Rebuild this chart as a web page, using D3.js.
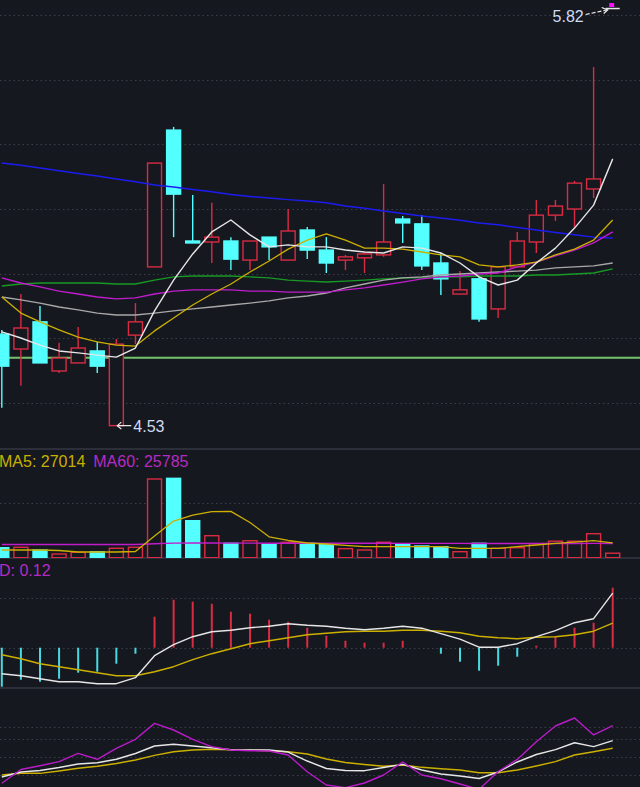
<!DOCTYPE html>
<html>
<head>
<meta charset="utf-8">
<script src="https://cdn.jsdelivr.net/npm/d3@7/dist/d3.min.js"></script>
<style>
  body { margin: 0; background: #161820; overflow: hidden; }
  text { font-family: "Liberation Sans", Arial, sans-serif; }
</style>
</head>
<body>
<div id="chart"></div>
<script>
// ---- daily bars (oldest -> newest) ----
var opens  = [4.813, 4.767, 4.851, 4.699, 4.724, 4.761, 4.530, 4.810, 5.021, 5.444, 5.101, 5.098, 5.101, 5.042, 5.113, 5.042, 5.135, 5.073, 5.042, 5.049, 5.058, 5.169, 5.154, 5.033, 4.937, 4.984, 4.891, 5.021, 5.098, 5.181, 5.200, 5.262, 5.820];
var highs  = [4.826, 4.937, 4.900, 4.786, 4.835, 4.789, 4.798, 4.909, 5.342, 5.454, 5.243, 5.219, 5.113, 5.101, 5.113, 5.200, 5.144, 5.113, 5.058, 5.067, 5.277, 5.178, 5.181, 5.064, 5.008, 4.990, 5.021, 5.129, 5.228, 5.228, 5.287, 5.639, 5.820];
var lows   = [4.585, 4.653, 4.724, 4.693, 4.724, 4.693, 4.530, 4.782, 5.021, 5.113, 5.095, 5.033, 5.011, 5.011, 5.042, 5.042, 5.045, 5.002, 5.011, 5.002, 5.052, 5.095, 5.011, 4.934, 4.937, 4.851, 4.863, 5.021, 5.064, 5.163, 5.144, 5.234, 5.820];
var closes = [4.714, 4.832, 4.724, 4.739, 4.770, 4.714, 4.782, 4.851, 5.342, 5.246, 5.095, 5.113, 5.045, 5.101, 5.083, 5.132, 5.073, 5.033, 5.052, 5.061, 5.098, 5.157, 5.024, 4.984, 4.950, 4.860, 5.021, 5.101, 5.181, 5.209, 5.280, 5.293, 5.820];

// price moving averages
var ma5   = [4.820, 4.801, 4.779, 4.761, 4.755, 4.748, 4.742, 4.770, 4.885, 4.980, 5.061, 5.129, 5.166, 5.120, 5.083, 5.089, 5.083, 5.083, 5.073, 5.067, 5.064, 5.083, 5.079, 5.064, 5.033, 4.990, 4.965, 4.980, 5.033, 5.079, 5.141, 5.212, 5.355];
var ma10  = [4.928, 4.878, 4.851, 4.826, 4.804, 4.789, 4.779, 4.776, 4.823, 4.863, 4.903, 4.937, 4.968, 5.005, 5.039, 5.076, 5.104, 5.123, 5.104, 5.079, 5.079, 5.076, 5.067, 5.058, 5.052, 5.027, 5.021, 5.027, 5.036, 5.058, 5.076, 5.104, 5.166];
var ma20  = [4.987, 4.971, 4.959, 4.946, 4.937, 4.928, 4.922, 4.925, 4.937, 4.946, 4.950, 4.950, 4.950, 4.946, 4.946, 4.943, 4.943, 4.943, 4.950, 4.956, 4.965, 4.974, 4.984, 4.990, 4.993, 4.999, 5.002, 5.021, 5.036, 5.055, 5.073, 5.095, 5.129];
var ma30  = [4.928, 4.919, 4.909, 4.897, 4.888, 4.878, 4.872, 4.872, 4.878, 4.885, 4.891, 4.897, 4.903, 4.909, 4.916, 4.925, 4.931, 4.940, 4.956, 4.968, 4.980, 4.987, 4.990, 4.996, 4.999, 5.002, 5.005, 5.008, 5.011, 5.018, 5.021, 5.024, 5.033];
var ma60  = [4.962, 4.968, 4.971, 4.971, 4.971, 4.971, 4.968, 4.968, 4.980, 4.990, 4.993, 4.993, 4.993, 4.990, 4.987, 4.980, 4.977, 4.974, 4.977, 4.980, 4.984, 4.987, 4.987, 4.990, 4.990, 4.993, 4.993, 4.993, 4.996, 4.996, 4.999, 5.002, 5.015];
var ma250 = [5.342, 5.335, 5.327, 5.318, 5.310, 5.302, 5.293, 5.284, 5.274, 5.268, 5.260, 5.253, 5.245, 5.239, 5.234, 5.229, 5.225, 5.219, 5.209, 5.202, 5.194, 5.186, 5.178, 5.172, 5.165, 5.157, 5.151, 5.143, 5.135, 5.127, 5.120, 5.113, 5.110];
var costLine = 4.74;
var priceGrid = [5.8, 5.6, 5.4, 5.2, 5.0, 4.8, 4.6];

// volume
var volumes  = [18200, 18900, 14000, 6700, 9800, 10900, 17100, 18900, 143100, 144300, 67300, 40000, 26200, 30900, 24400, 28000, 26200, 24400, 16400, 14000, 28000, 24400, 21300, 20000, 10900, 26200, 17100, 18200, 25500, 30000, 30000, 43600, 8200];
var volMa5   = [14000, 14000, 14000, 13100, 10400, 10400, 10400, 11300, 39500, 66700, 77600, 83600, 84200, 64000, 38000, 31300, 26700, 24900, 22500, 20000, 20000, 20000, 20000, 20000, 17100, 17100, 17100, 20000, 23100, 26200, 28500, 30900, 27014];
var volMa60  = [24100, 24000, 24000, 23900, 23900, 23900, 23900, 24000, 25400, 26500, 26700, 26600, 26500, 26500, 26400, 26400, 26300, 26300, 26200, 26200, 26200, 26100, 26100, 26000, 26000, 25900, 25900, 25900, 25800, 25800, 25800, 26000, 25785];
var volGrid = [100000];

// MACD
var dif  = [-0.052, -0.056, -0.062, -0.068, -0.068, -0.072, -0.072, -0.060, -0.016, 0.006, 0.022, 0.032, 0.035, 0.040, 0.043, 0.048, 0.045, 0.043, 0.039, 0.036, 0.039, 0.043, 0.039, 0.028, 0.017, 0.001, 0.001, 0.008, 0.022, 0.034, 0.050, 0.058, 0.109];
var dea  = [-0.014, -0.022, -0.032, -0.038, -0.044, -0.050, -0.056, -0.056, -0.048, -0.038, -0.024, -0.012, -0.002, 0.008, 0.014, 0.020, 0.026, 0.029, 0.032, 0.033, 0.033, 0.035, 0.035, 0.033, 0.030, 0.023, 0.020, 0.018, 0.021, 0.022, 0.026, 0.033, 0.049];
var macd = [-0.078, -0.064, -0.068, -0.062, -0.050, -0.048, -0.032, -0.012, 0.062, 0.096, 0.092, 0.088, 0.072, 0.068, 0.056, 0.052, 0.040, 0.024, 0.014, 0.010, 0.010, 0.014, 0.000, -0.012, -0.028, -0.046, -0.036, -0.018, 0.004, 0.022, 0.040, 0.050, 0.120];
var macdGrid = [0.1, 0];

// KDJ
var kLine = [16.7, 25.0, 27.5, 32.5, 38.3, 40.5, 46.2, 55.8, 68.3, 71.2, 68.3, 65.5, 62.2, 61.7, 61.7, 58.3, 43.3, 30.8, 27.5, 27.2, 32.5, 37.8, 28.3, 21.7, 18.3, 14.2, 25.0, 41.7, 54.2, 62.2, 73.8, 67.2, 77.2];
var dLine = [20.0, 22.8, 22.8, 26.7, 31.2, 34.5, 39.2, 45.0, 52.8, 58.7, 61.7, 62.8, 62.0, 61.3, 60.5, 58.8, 55.0, 46.7, 40.8, 37.5, 34.5, 36.7, 32.8, 30.3, 28.3, 23.8, 23.8, 28.3, 35.0, 42.2, 53.3, 58.8, 64.5];
var jLine = [6.2, 29.2, 35.5, 42.2, 56.1, 46.2, 64.5, 79.5, 106.0, 95.0, 79.5, 67.2, 61.7, 60.5, 60.0, 53.3, 25.5, 3.3, -1.0, 6.7, 20.0, 41.7, 20.0, 13.8, 5.0, -4.0, 25.8, 46.0, 75.5, 101.7, 115.0, 86.7, 102.2];
var kdjGrid = [100, 80, 50, 20];

// ---- layout ----
var svgWidth = 640;
var svgHeight = 787;
var upColor = "#d92b42";
var downColor = "#54ffff";
var gridColor = "#3b3f4b";

var svg = d3.select("#chart")
    .append("svg")
    .attr("width", svgWidth)
    .attr("height", svgHeight);

svg.append("rect")
    .attr("width", svgWidth)
    .attr("height", svgHeight)
    .attr("fill", "#161820");

// panel boxes: top / bottom in pixels
var panels = {
    price: [0, 448],
    vol: [450, 558],
    macd: [559, 688],
    kdj: [689, 787]
};

var defs = svg.append("defs");
Object.keys(panels).forEach(function (key) {
    defs.append("clipPath").attr("id", "clip-" + key)
        .append("rect")
        .attr("x", 0).attr("y", panels[key][0])
        .attr("width", svgWidth).attr("height", panels[key][1] - panels[key][0]);
});

// x scale: bar index -> centre
var xScale = d3.scaleLinear()
    .domain([0, closes.length - 1])
    .range([1.8, 612.7]);
var bodyWidth = 14;

var yPrice = d3.scaleLinear().domain([4.6, 5.8]).range([403, 15]);
var yVol = d3.scaleLinear().domain([0, 100000]).range([557.7, 502.7]);
var yMacd = d3.scaleLinear().domain([0, 0.1]).range([647.7, 597.7]);
var yKdj = d3.scaleLinear().domain([20, 80]).range([775, 739]);

// dotted grid lines
function drawGrid(values, yScale) {
    svg.append("g").selectAll("line")
        .data(values)
        .enter()
        .append("line")
        .attr("x1", 0)
        .attr("x2", svgWidth)
        .attr("y1", d => Math.round(yScale(d)) + 0.5)
        .attr("y2", d => Math.round(yScale(d)) + 0.5)
        .attr("stroke", gridColor)
        .attr("stroke-width", 1)
        .attr("stroke-dasharray", "1.5,3");
}
drawGrid(priceGrid, yPrice);
drawGrid(volGrid, yVol);
drawGrid(macdGrid, yMacd);
drawGrid(kdjGrid, yKdj);

// panel separators
[449, 558, 688].forEach(function (y) {
    svg.append("line")
        .attr("x1", 0).attr("x2", svgWidth)
        .attr("y1", y).attr("y2", y)
        .attr("stroke", "#2c2f39")
        .attr("stroke-width", 2);
});

function drawLine(g, values, yScale, color, width) {
    g.append("path")
        .datum(values)
        .attr("d", d3.line()
            .x((d, i) => xScale(i))
            .y(d => yScale(d)))
        .attr("fill", "none")
        .attr("stroke", color)
        .attr("stroke-width", width)
        .attr("stroke-linejoin", "round");
}

// ---- price panel ----
var priceGroup = svg.append("g").attr("clip-path", "url(#clip-price)");

priceGroup.append("line")
    .attr("x1", 0).attr("x2", svgWidth)
    .attr("y1", yPrice(costLine)).attr("y2", yPrice(costLine))
    .attr("stroke", "#74c46c")
    .attr("stroke-width", 2);

var candles = closes.map(function (c, i) {
    return { i: i, open: opens[i], high: highs[i], low: lows[i], close: c };
});

var candleG = priceGroup.selectAll("g.candle")
    .data(candles)
    .enter()
    .append("g")
    .attr("class", "candle");

// upper and lower wicks
candleG.append("line")
    .attr("x1", d => xScale(d.i)).attr("x2", d => xScale(d.i))
    .attr("y1", d => yPrice(d.high))
    .attr("y2", d => yPrice(Math.max(d.open, d.close)))
    .attr("stroke", d => d.close >= d.open ? upColor : downColor)
    .attr("stroke-width", 1.4);
candleG.append("line")
    .attr("x1", d => xScale(d.i)).attr("x2", d => xScale(d.i))
    .attr("y1", d => yPrice(Math.min(d.open, d.close)))
    .attr("y2", d => yPrice(d.low))
    .attr("stroke", d => d.close >= d.open ? upColor : downColor)
    .attr("stroke-width", 1.4);

candleG.filter(d => d.high !== d.low)
    .append("rect")
    .attr("x", d => xScale(d.i) - bodyWidth / 2)
    .attr("width", bodyWidth)
    .attr("y", d => yPrice(Math.max(d.open, d.close)))
    .attr("height", d => Math.max(1.5, yPrice(Math.min(d.open, d.close)) - yPrice(Math.max(d.open, d.close))))
    .attr("fill", d => d.close >= d.open ? "#161820" : downColor)
    .attr("stroke", d => d.close >= d.open ? upColor : downColor)
    .attr("stroke-width", 1.4);

// one-price bar (limit up)
candleG.filter(d => d.high === d.low)
    .append("line")
    .attr("x1", d => xScale(d.i) - bodyWidth / 2)
    .attr("x2", d => xScale(d.i) + bodyWidth / 2)
    .attr("y1", d => yPrice(d.close))
    .attr("y2", d => yPrice(d.close))
    .attr("stroke", "#e8e8e8")
    .attr("stroke-width", 1.5);

// moving averages
drawLine(priceGroup, ma250, yPrice, "#1c1cf0", 1.5);
drawLine(priceGroup, ma60, yPrice, "#179a24", 1.4);
drawLine(priceGroup, ma30, yPrice, "#a8a8a8", 1.4);
drawLine(priceGroup, ma20, yPrice, "#c01ccc", 1.4);
drawLine(priceGroup, ma10, yPrice, "#ccb000", 1.3);
drawLine(priceGroup, ma5, yPrice, "#e6e6e6", 1.4);

// high / low markers
var maxIdx = d3.maxIndex(highs);
var minIdx = d3.minIndex(lows);
var fmt = d3.format(".2f");

var hx = xScale(maxIdx), hy = yPrice(highs[maxIdx]);
priceGroup.append("rect")
    .attr("x", hx - 3.5).attr("y", hy - 5.5)
    .attr("width", 5).attr("height", 4)
    .attr("fill", "#ff10ff");
priceGroup.append("line")
    .attr("x1", hx - 27).attr("y1", hy + 6)
    .attr("x2", hx - 6).attr("y2", hy + 1.5)
    .attr("stroke", "#f0f0f0")
    .attr("stroke-width", 1.2)
    .attr("stroke-dasharray", "4,2");
priceGroup.append("path")
    .attr("d", `M${hx - 11},${hy - 1} L${hx - 5},${hy + 1.5} L${hx - 9},${hy + 5}`)
    .attr("fill", "none")
    .attr("stroke", "#f0f0f0")
    .attr("stroke-width", 1.2);
priceGroup.append("text")
    .attr("x", hx - 29)
    .attr("y", hy + 13.5)
    .attr("text-anchor", "end")
    .attr("font-size", "16px")
    .attr("fill", "#cfdcf2")
    .text(fmt(highs[maxIdx]));

var lx = xScale(minIdx), ly = yPrice(lows[minIdx]);
priceGroup.append("line")
    .attr("x1", lx + 1).attr("y1", ly)
    .attr("x2", lx + 15).attr("y2", ly)
    .attr("stroke", "#f0f0f0")
    .attr("stroke-width", 1.2);
priceGroup.append("path")
    .attr("d", `M${lx + 5},${ly - 3.5} L${lx + 1},${ly} L${lx + 5},${ly + 3.5}`)
    .attr("fill", "none")
    .attr("stroke", "#f0f0f0")
    .attr("stroke-width", 1.2);
priceGroup.append("text")
    .attr("x", lx + 17)
    .attr("y", ly + 6)
    .attr("font-size", "16px")
    .attr("fill", "#cfdcf2")
    .text(fmt(lows[minIdx]));

// ---- volume panel ----
var volGroup = svg.append("g").attr("clip-path", "url(#clip-vol)");

volGroup.selectAll("rect.vol")
    .data(candles)
    .enter()
    .append("rect")
    .attr("class", "vol")
    .attr("x", d => xScale(d.i) - bodyWidth / 2)
    .attr("width", bodyWidth)
    .attr("y", d => yVol(volumes[d.i]))
    .attr("height", d => yVol(0) - yVol(volumes[d.i]))
    .attr("fill", d => d.close >= d.open ? "#161820" : downColor)
    .attr("stroke", d => d.close >= d.open ? upColor : downColor)
    .attr("stroke-width", 1.4);

drawLine(volGroup, volMa60, yVol, "#c01ccc", 1.4);
drawLine(volGroup, volMa5, yVol, "#ccb000", 1.3);

var last = closes.length - 1;
var volLegend = svg.append("text")
    .attr("x", -1)
    .attr("y", 467)
    .attr("font-size", "16px");
volLegend.append("tspan").attr("fill", "#c8b000").text("MA5: " + volMa5[last]);
volLegend.append("tspan").attr("fill", "#b52bc2").attr("dx", 8).text("MA60: " + volMa60[last]);

// ---- MACD panel ----
var macdGroup = svg.append("g").attr("clip-path", "url(#clip-macd)");

macdGroup.selectAll("line.hist")
    .data(macd)
    .enter()
    .append("line")
    .attr("class", "hist")
    .attr("x1", (d, i) => xScale(i)).attr("x2", (d, i) => xScale(i))
    .attr("y1", yMacd(0))
    .attr("y2", d => yMacd(d))
    .attr("stroke", d => d >= 0 ? upColor : "#48d8e0")
    .attr("stroke-width", 2);

drawLine(macdGroup, dea, yMacd, "#ccb000", 1.4);
drawLine(macdGroup, dif, yMacd, "#e6e6e6", 1.4);

svg.append("text")
    .attr("x", -1)
    .attr("y", 576)
    .attr("font-size", "16px")
    .attr("fill", "#b52bc2")
    .text("D: " + fmt(macd[last]));

// ---- KDJ panel ----
var kdjGroup = svg.append("g").attr("clip-path", "url(#clip-kdj)");
drawLine(kdjGroup, dLine, yKdj, "#ccb000", 1.4);
drawLine(kdjGroup, kLine, yKdj, "#e6e6e6", 1.4);
drawLine(kdjGroup, jLine, yKdj, "#b81cc8", 1.4);
</script>
</body>
</html>
